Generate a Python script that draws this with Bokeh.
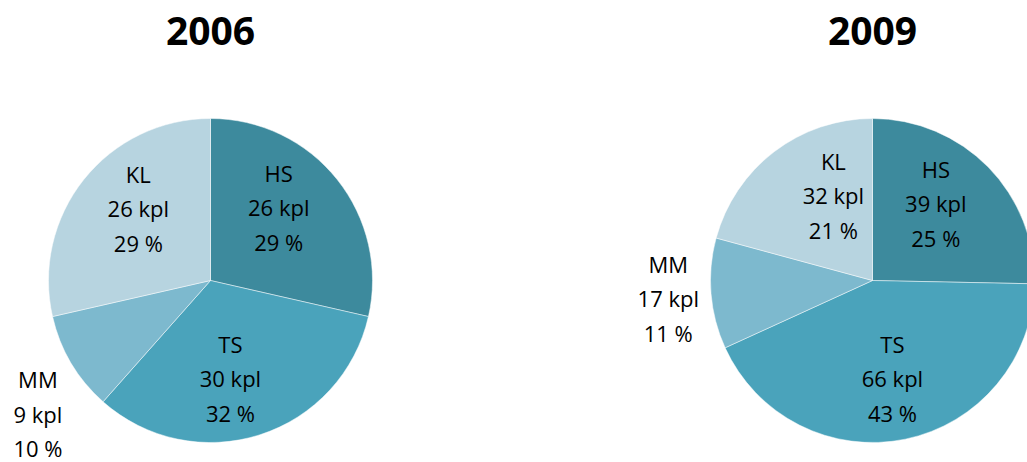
import numpy as np
from bokeh.plotting import figure
from bokeh.models import ColumnDataSource
from bokeh.core.properties import value
from bokeh.embed import file_html
from bokeh.resources import INLINE

# Data
categories = ["HS", "TS", "MM", "KL"]
years = ["2006", "2009"]
kpl_2006 = [26, 30, 9, 26]
pct_2006 = [29, 32, 10, 29]
kpl_2009 = [39, 66, 17, 32]
pct_2009 = [25, 43, 11, 21]

colors = ["#3d8a9d", "#4aa3bb", "#7db9ce", "#b7d4e0"]

W, H = 1027, 462
p = figure(width=W, height=H, x_range=(0, W), y_range=(0, H),
           output_backend="svg", toolbar_location=None,
           x_axis_location=None, y_axis_location=None,
           min_border=0, outline_line_color=None)
p.grid.visible = False
p.background_fill_color = "white"
p.border_fill_color = "white"

R = 162
pies = [
    dict(year="2006", kpl=kpl_2006, pct=pct_2006, cx=210, cy=182,
         # label placement: (distance from centre, angular nudge in degrees)
         lab=[(100, 8.4), (100, -6.3), (218, 7.0), (102, -6.4)]),
    dict(year="2009", kpl=kpl_2009, pct=pct_2009, cx=872, cy=182,
         lab=[(100, 6.3), (100, -0.2), (205, 0.3), (94, -12.8)]),
]

for pie in pies:
    vals = np.array(pie["kpl"], dtype=float)
    frac = vals / vals.sum()
    cum = np.concatenate([[0.0], np.cumsum(frac)]) * 2 * np.pi
    start = np.pi / 2 - cum[:-1]
    end = np.pi / 2 - cum[1:]
    mid = (start + end) / 2

    src = ColumnDataSource(dict(
        x=[pie["cx"]] * len(vals), y=[pie["cy"]] * len(vals),
        start=start, end=end, color=colors,
    ))
    p.wedge(x="x", y="y", radius=R, start_angle="start", end_angle="end",
            direction="clock", fill_color="color", line_color="white",
            line_width=0.8, line_alpha=0.6, source=src)

    lx, ly, txt = [], [], []
    for i, cat in enumerate(categories):
        d, da = pie["lab"][i]
        a = mid[i] + np.radians(da)
        lx.append(pie["cx"] + d * np.cos(a))
        ly.append(pie["cy"] + d * np.sin(a))
        txt.append(f"{cat}\n{pie['kpl'][i]} kpl\n{pie['pct'][i]} %")
    p.text(x=lx, y=ly, text=txt, text_align="center", text_baseline="middle",
           text_font=value("Open Sans"), text_font_size="22px",
           text_line_height=1.15, text_color="black")

    p.text(x=[pie["cx"]], y=[432], text=[pie["year"]], text_align="center",
           text_baseline="middle", text_font=value("Open Sans"),
           text_font_size="39px", text_font_style="bold", text_color="black")

open("out.html", "w").write(file_html(p, INLINE))
